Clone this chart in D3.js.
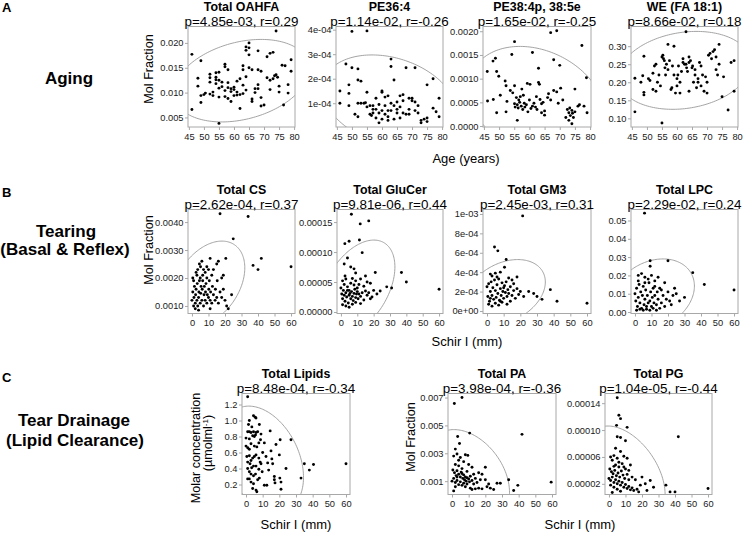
<!DOCTYPE html>
<html><head><meta charset="utf-8">
<script src="https://cdn.jsdelivr.net/npm/d3@7"></script>
<style>
html,body{margin:0;padding:0;background:#fff;}
svg{display:block;font-family:"Liberation Sans",Arial,Helvetica,sans-serif;}
</style></head>
<body><svg id="c" width="744" height="541"></svg>
<script>
// ---------- DATA ----------
const ageTicks = [45,50,55,60,65,70,75,80];
const schirTicks = [0,10,20,30,40,50,60];

const oahfa = [[46,0.0177],[46,0.0066],[48,0.0129],[48,0.0113],[49,0.0164],[49,0.0080],[49,0.0094],[50,0.0096],[50.5,0.0099],[52,0.0137],[52,0.0130],[52,0.0121],[52,0.0097],[53,0.0094],[53,0.0101],[54,0.0140],[54,0.0131],[54,0.0126],[54,0.0118],[55,0.0141],[55,0.0125],[55,0.0109],[55,0.0091],[55,0.0038],[56,0.0121],[56,0.0112],[57,0.0157],[57,0.0152],[57,0.0104],[57,0.0092],[58,0.0146],[58,0.0120],[58,0.0110],[58,0.0088],[59,0.0108],[59,0.0102],[59,0.0082],[60,0.0111],[60,0.0106],[60,0.0094],[61,0.0123],[61,0.0101],[61,0.0095],[62,0.0128],[62,0.0096],[62,0.0068],[63,0.0154],[63,0.0146],[63,0.0115],[63,0.0098],[64,0.0192],[64,0.0185],[64,0.0132],[64,0.0105],[65,0.0200],[65,0.0190],[65,0.0176],[65,0.0150],[66,0.0146],[66,0.0087],[66,0.0082],[67,0.0108],[67,0.0100],[68,0.0184],[68,0.0146],[68,0.0116],[68,0.0108],[69,0.0143],[69,0.0090],[69,0.0073],[70,0.0075],[71,0.0172],[71,0.0130],[72,0.0179],[72,0.0125],[72,0.0106],[73,0.0181],[73,0.0128],[73.5,0.0134],[74,0.0136],[74,0.0224],[74.5,0.0131],[75,0.0113],[75,0.0101],[76,0.0155],[76.5,0.0075],[77,0.0154],[78,0.0116],[78,0.0099],[79,0.0166],[79,0.0143]];

const pe364 = [[46,1.5e-4],[46,1.0e-4],[48,2.6e-4],[49,1.75e-4],[49,1.4e-4],[49,0.9e-4],[50,2.45e-4],[50,3.93e-4],[51,0.55e-4],[52,2.4e-4],[52,1.95e-4],[52,1.0e-4],[52,0.45e-4],[53,1.9e-4],[53,1.0e-4],[54,1.0e-4],[54.5,1.02e-4],[55,3.95e-4],[55,1.45e-4],[55,0.85e-4],[56,0.9e-4],[56,0.55e-4],[56.5,0.5e-4],[57,0.75e-4],[57,0.6e-4],[58,0.4e-4],[58,1.2e-4],[59,0.6e-4],[59,0.2e-4],[59,0.95e-4],[60,1.5e-4],[60,1.45e-4],[60,0.7e-4],[61,0.9e-4],[61,1.25e-4],[61,0.55e-4],[62,1.3e-4],[62,0.45e-4],[62,0.7e-4],[63,2.8e-4],[63,2.5e-4],[63,1.0e-4],[63,0.7e-4],[64,1.95e-4],[64,0.35e-4],[65,1.05e-4],[65,0.6e-4],[65,0.75e-4],[66,1.3e-4],[66,0.4e-4],[67,1.1e-4],[67,1.35e-4],[67,0.6e-4],[68,0.55e-4],[68,2.45e-4],[69,1.2e-4],[69,0.75e-4],[69,0.55e-4],[70,1.1e-4],[70,1.2e-4],[71,1.05e-4],[71,0.7e-4],[71,2.45e-4],[72,0.9e-4],[72,0.6e-4],[73,0.2e-4],[73,0.3e-4],[74,0.35e-4],[75,0.4e-4],[75,0.25e-4],[75,1.75e-4],[77,2.0e-4],[77,0.8e-4],[78,0.65e-4],[79,1.2e-4],[79,0.45e-4],[57,0.9e-4],[58,0.75e-4],[62,0.3e-4],[64,0.9e-4],[66,0.85e-4],[60,0.35e-4]];

const pe384 = [[46.1,0.00115],[46.2,0.00053],[48,0.00137],[48.8,0.00143],[49.2,0.00115],[49.9,0.00105],[48.1,0.00056],[49.2,0.00028],[50.4,0.00065],[52,0.00095],[52.3,0.00085],[52.3,0.0003],[52.6,0.00052],[53.7,0.00075],[54.2,0.00151],[54.5,0.0007],[55.1,0.00178],[55.1,0.00085],[55.1,0.00047],[55.3,0.0004],[55.7,0.0006],[56,0.00012],[56,0.00045],[56.3,0.00038],[56.5,0.00055],[56.8,0.0005],[57,0.00062],[57.3,0.00042],[57.5,0.00078],[57.8,0.00035],[58,0.00065],[58.3,0.00048],[58.5,0.0004],[59,0.00045],[59.3,0.0009],[59.5,0.0003],[60,0.00055],[60.2,0.00088],[60.5,0.00037],[61,0.00155],[61,0.00042],[61.5,0.00048],[62,0.0004],[62.3,0.00062],[62.5,0.00035],[63,0.00122],[63,0.00092],[63.3,0.00088],[63.5,0.00056],[64,0.00047],[64,0.00028],[64.5,0.0005],[65,0.00032],[65,0.00023],[66,0.0006],[66.3,0.00068],[67,0.00197],[67,0.00055],[68,0.0014],[68,0.00075],[69,0.00201],[69,0.00072],[69.5,0.00048],[70,0.00128],[70.3,0.0008],[71,0.00055],[72,0.00018],[72.5,0.00035],[73,0.00028],[73,0.00012],[73.3,0.00038],[73.5,0.00022],[74,0.00033],[74,0.00005],[74.5,0.00018],[75,0.0003],[75,0.00078],[76,0.00042],[76.5,0.00045],[77.3,0.0017],[78,0.00042],[78.8,0.00102],[79,0.00028],[74.2,0.00027]];

const we181 = [[46,0.211],[46,0.118],[48,0.200],[48.6,0.218],[49,0.272],[49,0.172],[49,0.165],[50.5,0.21],[51,0.205],[52,0.225],[52,0.18],[52.5,0.245],[53,0.25],[53,0.175],[54,0.22],[54.5,0.19],[55,0.27],[55.3,0.275],[55,0.087],[55.5,0.265],[55.8,0.26],[56,0.24],[56.2,0.22],[56.5,0.25],[57,0.305],[57,0.235],[57.5,0.26],[58,0.18],[58.3,0.185],[58.5,0.245],[59,0.3],[59,0.22],[59.5,0.17],[60,0.21],[60.3,0.22],[60.5,0.245],[61,0.17],[61,0.2],[61.5,0.23],[62,0.265],[62,0.255],[62.5,0.25],[63,0.34],[63,0.25],[63.2,0.24],[63.5,0.23],[64,0.27],[64,0.255],[64.5,0.26],[65,0.24],[65.2,0.245],[65.5,0.2],[66,0.22],[66,0.235],[66.5,0.185],[67,0.21],[67.5,0.255],[68,0.245],[68,0.19],[68.5,0.22],[69,0.175],[69.5,0.215],[70,0.2],[70.5,0.275],[71,0.28],[71.5,0.265],[72,0.285],[72.5,0.29],[73,0.27],[73,0.235],[73.5,0.22],[74,0.305],[74,0.25],[75,0.16],[75.5,0.215],[77,0.123],[78,0.255],[79,0.26],[79,0.175],[64,0.175],[67,0.2],[60,0.19],[70,0.17],[53.5,0.2]];

const cs = [[17,0.0043],[34,0.0042],[25,0.0034],[42,0.0027],[37,0.00245],[40,0.0023],[60,0.0024],[22,0.0009],[0.5,0.0020],[2.5,0.0022],[3.5,0.0023],[4.5,0.0025],[5.2,0.0024],[6,0.0026],[7,0.0023],[8,0.0022],[9,0.0024],[10,0.0023],[11,0.0027],[13,0.0023],[15,0.0025],[16,0.0026],[18,0.0020],[19,0.0021],[20.5,0.0027],[6.5,0.0021],[12,0.0021],[0,0.0012],[0.5,0.0015],[1,0.0010],[1.2,0.0013],[1.5,0.0017],[2,0.0011],[2.2,0.0014],[2.5,0.0016],[3,0.0012],[3.2,0.0018],[3.5,0.0010],[4,0.0013],[4.2,0.0015],[4.5,0.0019],[5,0.0011],[5.3,0.00145],[5.5,0.0017],[6,0.0012],[6.2,0.0016],[6.5,0.0019],[7,0.0010],[7.3,0.0014],[7.5,0.0017],[8,0.0012],[8.2,0.0015],[8.5,0.0018],[9,0.0011],[9.3,0.0014],[10,0.0013],[10.2,0.0016],[10.5,0.0019],[11,0.0012],[11.3,0.0015],[12,0.0011],[12.4,0.0017],[13,0.0014],[14,0.0012],[14.2,0.0016],[15,0.0013],[15.3,0.0019],[16,0.0011],[17,0.0015],[18,0.0013],[19,0.0016],[20,0.0012],[21,0.0010],[24,0.0014],[1,0.0019],[3,0.0021],[5,0.0020],[9,0.0020],[2,0.0009],[4,0.00085],[11,0.0009]];

const glucer = [[6.4,16.3e-5],[11.8,14.7e-5],[17,15.2e-5],[2.4,11.4e-5],[5,11.8e-5],[11.3,12e-5],[13,9.9e-5],[4,9e-5],[2,8e-5],[6,7.5e-5],[8,7.2e-5],[9,6.5e-5],[21,6.6e-5],[37,6.6e-5],[40,5e-5],[60,3.8e-5],[28,4.2e-5],[31,4e-5],[24,3.5e-5],[1,5.2e-5],[2,4.6e-5],[3,5.5e-5],[4,4.2e-5],[5,3.6e-5],[6,4.8e-5],[7,5.6e-5],[8,4.5e-5],[9,5.2e-5],[10,4e-5],[11,4.6e-5],[12,5.5e-5],[14,4.3e-5],[16,5e-5],[18,4.8e-5],[0.5,3e-5],[1,2.2e-5],[1.5,3.6e-5],[2,2.8e-5],[2.5,1.8e-5],[3,3.2e-5],[3.5,2.5e-5],[4,3.6e-5],[4.5,1.5e-5],[5,2.8e-5],[5.5,3.1e-5],[6,2.2e-5],[6.5,3.4e-5],[7,2.6e-5],[7.5,1.9e-5],[8,3.1e-5],[8.5,3.8e-5],[9,2.4e-5],[9.5,3e-5],[10,3.4e-5],[10.5,2.2e-5],[11,3e-5],[12,2.6e-5],[13,3.2e-5],[14,2e-5],[15,3.5e-5],[16,2.8e-5],[17,3.2e-5],[19,2.5e-5],[20,3.6e-5],[22,3e-5],[1,1.2e-5],[3,1.0e-5],[5,0.8e-5],[7,1.3e-5],[9,1.6e-5],[12,1.4e-5],[0,4e-5],[2.5,6e-5],[15,6e-5],[18,2.2e-5]];

const gm3 = [[21.4,9.8e-4],[4.5,6.6e-4],[6.5,6.2e-4],[11.5,5.3e-4],[10.5,4.5e-4],[2,3.8e-4],[5,3.9e-4],[8,4.0e-4],[15,3.2e-4],[18,3.5e-4],[25,2.0e-4],[28,1.8e-4],[30,1.5e-4],[33,1.2e-4],[38,2.2e-4],[42,1.0e-4],[60,0.8e-4],[0,2.5e-4],[0.5,1.5e-4],[1,2.8e-4],[1.5,1.0e-4],[2,2.0e-4],[2.5,3.0e-4],[3,1.6e-4],[3.5,2.4e-4],[4,1.2e-4],[4.5,3.2e-4],[5,2.1e-4],[5.5,1.4e-4],[6,2.7e-4],[6.5,1.8e-4],[7,3.3e-4],[7.5,1.1e-4],[8,2.3e-4],[8.5,1.6e-4],[9,2.9e-4],[9.5,2.0e-4],[10,1.3e-4],[10.5,2.6e-4],[11,1.9e-4],[11.5,3.0e-4],[12,1.5e-4],[12.5,2.2e-4],[13,1.8e-4],[14,2.5e-4],[15,1.6e-4],[16,2.1e-4],[17,1.3e-4],[18,2.3e-4],[19,1.7e-4],[20,2.0e-4],[22,1.5e-4],[1,0.7e-4],[3,0.5e-4],[5,0.8e-4],[7,0.6e-4],[9,0.9e-4],[12,0.7e-4],[14,1.0e-4],[3,3.6e-4],[6,3.5e-4],[13,3.4e-4],[2,1.3e-4],[8,1.0e-4],[16,2.8e-4],[10,2.4e-4]];

const lpc = [[5.8,0.054],[9.2,0.028],[9.2,0.025],[20,0.028],[35,0.0215],[2,0.020],[4,0.021],[6,0.019],[8,0.018],[10,0.020],[12,0.017],[14,0.019],[60,0.012],[42,0.015],[25,0.010],[30,0.008],[27,0.006],[22,0.004],[0,0.010],[0.5,0.006],[1,0.013],[1.5,0.003],[2,0.008],[2.5,0.015],[3,0.005],[3.5,0.011],[4,0.002],[4.5,0.009],[5,0.014],[5.5,0.004],[6,0.007],[6.5,0.012],[7,0.003],[7.5,0.009],[8,0.005],[8.5,0.016],[9,0.006],[9.5,0.011],[10,0.003],[10.5,0.008],[11,0.013],[11.5,0.005],[12,0.009],[13,0.004],[13.5,0.011],[14,0.007],[15,0.013],[16,0.005],[17,0.009],[18,0.003],[19,0.007],[20,0.011],[21,0.006],[23,0.009],[1,0.001],[3,0.0015],[5,0.001],[7,0.0015],[9,0.001],[11,0.002],[13,0.001],[15,0.002],[2,0.017],[6,0.016],[12,0.014],[16,0.012],[18,0.016],[24,0.013]];

const lipids = [[1,1.296],[2,1.0],[4.5,1.06],[5.6,1.04],[6,1.03],[8,0.95],[14.5,0.87],[1,0.86],[2,0.86],[3,0.85],[4.5,0.86],[6,0.85],[7,0.86],[0,0.78],[2,0.77],[4,0.81],[5,0.8],[5.7,0.82],[0,0.68],[1,0.66],[2,0.64],[3,0.71],[5,0.68],[6.5,0.67],[7.7,0.72],[8.7,0.76],[0.5,0.55],[2,0.56],[3,0.5],[4,0.53],[5,0.55],[6,0.57],[7.7,0.53],[8.5,0.48],[1,0.48],[2.4,0.46],[3.4,0.41],[4.5,0.43],[6,0.43],[7.7,0.39],[9,0.46],[1,0.4],[2,0.36],[3,0.33],[4.5,0.31],[5.7,0.33],[7,0.26],[8,0.28],[9.7,0.36],[1,0.27],[2,0.27],[3,0.23],[4.5,0.21],[4,0.15],[6,0.13],[6.5,0.11],[11,0.19],[12.5,0.19],[13,0.47],[13.6,0.38],[15.5,0.52],[16,0.46],[17,0.3],[17,0.26],[17.4,0.22],[18,0.7],[20,0.57],[20.3,0.28],[21,0.23],[21,0.14],[20.5,0.76],[24,0.4],[27,0.76],[33,0.28],[35,0.46],[38,0.38],[40.5,0.45],[60,0.46],[10,0.6],[11,0.72],[9,0.83],[1.5,0.95],[3.5,0.92],[12,0.55],[15,0.62]];

const pa = [[1.4,6.57e-3],[6,7.0e-3],[10.6,4.45e-3],[3.4,4.2e-3],[4.5,3.7e-3],[42,4.36e-3],[59.5,0.93e-3],[34,1.1e-3],[37,0.33e-3],[39.5,0.7e-3],[1,2.8e-3],[3,2.95e-3],[5,2.7e-3],[8,2.9e-3],[9.5,2.85e-3],[7,2.4e-3],[2,2.2e-3],[4,2.1e-3],[6,1.9e-3],[10,2.2e-3],[12,2.0e-3],[0.5,1.8e-3],[1.5,1.6e-3],[2.5,1.4e-3],[3,1.75e-3],[4,1.5e-3],[5,1.3e-3],[5.5,1.65e-3],[6.5,1.2e-3],[7,1.45e-3],[7.5,1.1e-3],[8,1.3e-3],[8.5,1.0e-3],[9,1.25e-3],[10,1.15e-3],[10.5,0.95e-3],[11,1.35e-3],[12,1.05e-3],[13,1.5e-3],[14,1.2e-3],[15,0.9e-3],[16,1.6e-3],[17,1.1e-3],[0,1.0e-3],[1,1.2e-3],[2,0.9e-3],[3,1.05e-3],[4,0.75e-3],[5,0.95e-3],[6,0.7e-3],[7,0.85e-3],[8,0.6e-3],[9,0.8e-3],[11,0.5e-3],[12,0.4e-3],[14,0.45e-3],[16,0.5e-3],[18,0.45e-3],[20,2.0e-3],[18,1.5e-3],[22,0.8e-3],[21,0.6e-3],[23,0.5e-3],[25,0.4e-3],[27,0.85e-3],[29,0.85e-3],[20,1.1e-3],[2,0.6e-3],[1,0.3e-3],[3,1.3e-3],[6,1.55e-3],[9,1.7e-3],[13,0.8e-3],[4,2.5e-3],[2,3.3e-3]];

const pg = [[5,14.8e-5],[6,12.2e-5],[7,11.7e-5],[4.6,10.7e-5],[11,10.4e-5],[5,9e-5],[7,8.9e-5],[10,8.4e-5],[42,9e-5],[60,1.3e-5],[34.5,1.8e-5],[37,0.8e-5],[40,0.8e-5],[1,6e-5],[2,5.5e-5],[3,6.2e-5],[5,5.8e-5],[7,6.8e-5],[9,6.1e-5],[11,5.8e-5],[4,4.8e-5],[6,4.5e-5],[8,5.0e-5],[10,4.2e-5],[13,4.8e-5],[0.5,4.2e-5],[1.5,3.8e-5],[2.5,3.5e-5],[3.5,4.0e-5],[4.5,3.2e-5],[5.5,3.6e-5],[6.5,3.0e-5],[7.5,3.9e-5],[8.5,3.3e-5],[9.5,2.8e-5],[11,3.4e-5],[12,2.6e-5],[14,3.0e-5],[16,2.6e-5],[0,2.8e-5],[1,2.5e-5],[2,3.0e-5],[3,2.2e-5],[4,2.6e-5],[5,2.0e-5],[6,2.4e-5],[7,1.8e-5],[8,2.2e-5],[9,1.5e-5],[10,1.9e-5],[11,1.3e-5],[12,1.6e-5],[13,1.1e-5],[14,1.4e-5],[15,1.0e-5],[17,1.2e-5],[18,0.8e-5],[1,1.8e-5],[3,1.5e-5],[5,1.2e-5],[7,0.9e-5],[2,0.7e-5],[20,3e-5],[22,2e-5],[25,2.5e-5],[27,1.5e-5],[19,1.8e-5],[23,1.0e-5],[3,4.6e-5],[6,5.2e-5],[9,4.5e-5],[12,4.0e-5],[4,7.3e-5]];

// ellipse parameters: [centre x, centre y, x half-extent, y half-extent, r]
const ellipses = {
  oahfa:[62.5,0.0124,22.5,0.0083,0.29], pe364:[62.5,1.1e-4,22.3,1.87e-4,-0.26],
  pe384:[62.5,0.0005,22.5,0.00118,-0.25], we181:[62.5,0.233,22,0.108,0.18],
  cs:[10,0.0018,22,0.00152,0.37], glucer:[10,4e-5,23,8e-5,0.44],
  gm3:[11,1.95e-4,24,3.35e-4,0.31], lpc:[11,0.0095,25,0.0195,0.24],
  lipids:[10,0.516,24.5,0.664,-0.34], pa:[10,0.0014,24.5,0.0033,-0.36],
  pg:[10,3.52e-5,24,7.08e-5,-0.44]
};

const titles = {oahfa:"Total OAHFA", pe364:"PE36:4", pe384:"PE38:4p, 38:5e", we181:"WE (FA 18:1)",
  cs:"Total CS", glucer:"Total GluCer", gm3:"Total GM3", lpc:"Total LPC",
  lipids:"Total Lipids", pa:"Total PA", pg:"Total PG"};
const stats = {oahfa:"p=4.85e-03, r=0.29", pe364:"p=1.14e-02, r=-0.26", pe384:"p=1.65e-02, r=-0.25", we181:"p=8.66e-02, r=0.18",
  cs:"p=2.62e-04, r=0.37", glucer:"p=9.81e-06, r=0.44", gm3:"p=2.45e-03, r=0.31", lpc:"p=2.29e-02, r=0.24",
  lipids:"p=8.48e-04, r=-0.34", pa:"p=3.98e-04, r=-0.36", pg:"p=1.04e-05, r=-0.44"};
const yTicks = {oahfa:[0.005,0.010,0.015,0.020], pe364:[1e-4,2e-4,3e-4,4e-4], pe384:[0,0.0005,0.0010,0.0015,0.0020],
  we181:[0.10,0.15,0.20,0.25,0.30], cs:[0.0010,0.0020,0.0030,0.0040], glucer:[0,0.00005,0.00010,0.00015],
  gm3:[0,2e-4,4e-4,6e-4,8e-4,1e-3], lpc:[0,0.01,0.02,0.03,0.04,0.05], lipids:[0.2,0.4,0.6,0.8,1.0,1.2],
  pa:[0.001,0.003,0.005,0.007], pg:[0.00002,0.00006,0.00010,0.00014]};
const yDomains = {oahfa:[0.00308,0.0233], pe364:[0.000003,0.000413], pe384:[-0.00002,0.0021], we181:[0.076,0.3546],
  cs:[0.00073,0.00445], glucer:[-0.0000025,0.000171], gm3:[-0.000026,0.001046], lpc:[-0.0008,0.056],
  lipids:[0.075,1.3375], pa:[0.000043,0.00729], pg:[0.0000041,0.0001544]};
const ageDomain = [44.7,80.3], schirDomain = [-2.4,62.4];

// ---------- LAYOUT ----------
const sciFmt = v => { if (v===0) return "0e+00"; const e=Math.floor(Math.log10(Math.abs(v))+1e-9); const m=Math.round(v/Math.pow(10,e)); return m+"e"+(e<0?"-":"+")+String(Math.abs(e)).padStart(2,"0"); };
const fmts = {oahfa:d3.format(".3f"), pe364:sciFmt, pe384:d3.format(".4f"), we181:d3.format(".2f"), cs:d3.format(".4f"),
  glucer:d3.format(".5f"), gm3:sciFmt, lpc:d3.format(".2f"), lipids:d3.format(".1f"), pa:d3.format(".3f"), pg:d3.format(".5f")};
const dataSets = {oahfa, pe364, pe384, we181, cs, glucer, gm3, lpc, lipids, pa, pg};

const panels = [
  {k:"oahfa", x0:188, x1:295, y0:26.5, y1:127, xd:ageDomain, xt:ageTicks},
  {k:"pe364", x0:336, x1:443, y0:26.5, y1:127, xd:ageDomain, xt:ageTicks},
  {k:"pe384", x0:483, x1:591, y0:26.5, y1:127, xd:ageDomain, xt:ageTicks},
  {k:"we181", x0:631, x1:738, y0:26.5, y1:127, xd:ageDomain, xt:ageTicks},
  {k:"cs", x0:188, x1:295, y0:209.5, y1:313.5, xd:schirDomain, xt:schirTicks},
  {k:"glucer", x0:337, x1:443, y0:209.5, y1:313.5, xd:schirDomain, xt:schirTicks},
  {k:"gm3", x0:483, x1:591, y0:209.5, y1:313.5, xd:schirDomain, xt:schirTicks},
  {k:"lpc", x0:631, x1:738, y0:209.5, y1:313.5, xd:schirDomain, xt:schirTicks},
  {k:"lipids", x0:242, x1:350, y0:393.5, y1:494.5, xd:schirDomain, xt:schirTicks},
  {k:"pa", x0:448, x1:556, y0:393.5, y1:494.5, xd:schirDomain, xt:schirTicks},
  {k:"pg", x0:605, x1:712, y0:393.5, y1:494.5, xd:schirDomain, xt:schirTicks}
];

const svg = d3.select("#c");
svg.append("rect").attr("width",744).attr("height",541).attr("fill","#fff");
const defs = svg.append("defs");
const boxCol = "#a8a8a8", txtCol = "#1a1a1a";

panels.forEach((p,i) => {
  const x = d3.scaleLinear().domain(p.xd).range([p.x0,p.x1]);
  const y = d3.scaleLinear().domain(yDomains[p.k]).range([p.y1,p.y0]);
  const g = svg.append("g");
  defs.append("clipPath").attr("id","cl"+i).append("rect")
    .attr("x",p.x0).attr("y",p.y0).attr("width",p.x1-p.x0).attr("height",p.y1-p.y0);

  const [ecx,ecy,eax,eay,er] = ellipses[p.k];
  const dlt = Math.acos(er);
  const ts = d3.range(0, 2*Math.PI, Math.PI/90);
  const line = d3.line().x(t=>x(ecx+eax*Math.cos(t))).y(t=>y(ecy+eay*Math.cos(t+dlt))).curve(d3.curveLinearClosed);
  g.append("path").attr("d",line(ts)).attr("fill","none").attr("stroke","#9a9a9a").attr("stroke-width",0.9)
    .attr("clip-path",`url(#cl${i})`);

  g.append("g").attr("clip-path",`url(#cl${i})`).selectAll("circle").data(dataSets[p.k]).join("circle")
    .attr("cx",d=>x(d[0])).attr("cy",d=>y(d[1])).attr("r",1.45).attr("fill","#000");

  g.append("rect").attr("x",p.x0).attr("y",p.y0).attr("width",p.x1-p.x0).attr("height",p.y1-p.y0)
    .attr("fill","none").attr("stroke",boxCol).attr("stroke-width",1);

  const ya = g.append("g").attr("transform",`translate(${p.x0},0)`)
    .call(d3.axisLeft(y).tickValues(yTicks[p.k]).tickFormat(fmts[p.k]).tickSize(3).tickPadding(1.5));
  const xa = g.append("g").attr("transform",`translate(0,${p.y1})`)
    .call(d3.axisBottom(x).tickValues(p.xt).tickFormat(d3.format("d")).tickSize(3).tickPadding(3));
  [ya,xa].forEach(a=>{
    a.select(".domain").remove();
    a.selectAll("line").attr("stroke",boxCol);
    a.selectAll("text").attr("fill",txtCol).style("font-size","9.3px").style("font-family","'Liberation Sans',Arial,sans-serif");
  });

  const cx = (p.x0+p.x1)/2;
  g.append("text").attr("x",cx).attr("y",p.y0-15.2).attr("text-anchor","middle")
    .style("font-weight","bold").style("font-size","12.4px").attr("fill","#000").text(titles[p.k]);
  g.append("text").attr("x",cx).attr("y",p.y0-0.6).attr("text-anchor","middle")
    .style("font-size","13.4px").attr("fill","#000").text(stats[p.k]);
});

function hText(x,y,t,size,weight){
  return svg.append("text").attr("x",x).attr("y",y).attr("text-anchor","middle").style("font-size",size+"px")
    .style("font-weight",weight||"normal").attr("fill","#000").text(t);
}
function vText(x,y,t,size){
  return svg.append("text").attr("transform",`translate(${x},${y}) rotate(-90)`).attr("text-anchor","middle")
    .style("font-size",size+"px").attr("fill","#000").text(t);
}
hText(466,163,"Age (years)",13);
hText(467,346,"Schir I (mm)",13);
hText(296,529,"Schir I (mm)",13);
hText(580,529,"Schir I (mm)",13);
vText(153,69,"Mol Fraction",12.6);
vText(153,250,"Mol Fraction",12.6);
vText(415,437,"Mol Fraction",12.6);
vText(200,448,"Molar concentration",12.6);
const u = vText(212,443,"(µmolml",12.6);
u.append("tspan").attr("dy",-4).style("font-size","8px").text("-1");
u.append("tspan").attr("dy",4).text(")");

hText(69,84,"Aging",17,"bold");
hText(66,237,"Tearing",17,"bold");
hText(65,255,"(Basal & Reflex)",17,"bold");
hText(74,426,"Tear Drainage",17,"bold");
hText(75,446,"(Lipid Clearance)",17,"bold");
[["A",12],["B",197],["C",382]].forEach(([t,y])=>{
  svg.append("text").attr("x",2).attr("y",y).style("font-size","13px").style("font-weight","bold").text(t);
});
</script></body></html>
